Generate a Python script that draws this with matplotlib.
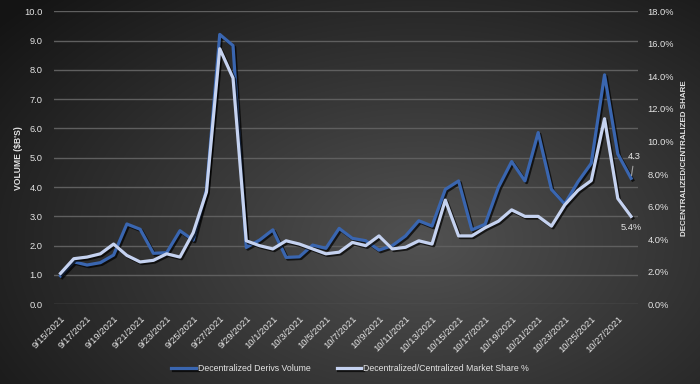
import numpy as np
import pandas as pd
import matplotlib
matplotlib.use("Agg")
import matplotlib.pyplot as plt
import matplotlib.patheffects as pe

# Data
dates = pd.date_range("2021-09-15", "2021-10-28", freq="D")
volume = [0.97, 1.45, 1.34, 1.42, 1.68, 2.74, 2.56, 1.74, 1.76, 2.51,
          2.19, 3.90, 9.21, 8.83, 1.94, 2.19, 2.54, 1.60, 1.62, 2.02,
          1.91, 2.59, 2.25, 2.17, 1.85, 2.00, 2.33, 2.85, 2.67, 3.92,
          4.21, 2.54, 2.73, 3.99, 4.87, 4.21, 5.86, 3.92, 3.42, 4.18,
          4.81, 7.83, 5.13, 4.30]
share = [1.9, 2.8, 2.9, 3.1, 3.7, 3.0, 2.6, 2.7, 3.1, 2.9,
         4.4, 6.9, 15.7, 13.9, 3.9, 3.6, 3.4, 3.9, 3.7, 3.4,
         3.1, 3.2, 3.8, 3.6, 4.2, 3.4, 3.5, 3.9, 3.7, 6.4,
         4.2, 4.2, 4.7, 5.1, 5.8, 5.4, 5.4, 4.8, 6.1, 7.0,
         7.6, 11.4, 6.5, 5.4]
labels = [f"{d.month}/{d.day}/{d.year}" for d in dates]

blue = "#3A66B0"
light = "#C5D2F0"
txt = "#E4E4E4"
grid = "#5F5F5F"
plt.rcParams["font.family"] = ["Liberation Sans Narrow", "Liberation Sans", "DejaVu Sans"]

fig = plt.figure(figsize=(7, 3.84), dpi=100)

# radial gradient background
bg = fig.add_axes([0, 0, 1, 1], zorder=-10)
yy, xx = np.mgrid[0:384, 0:700]
r = np.sqrt(((xx - 420) / 520.0) ** 2 + ((yy - 240) / 330.0) ** 2)
shade = np.clip(0.32 - 0.23 * r, 0.08, 0.32)
bg.imshow(np.dstack([shade] * 3), aspect="auto", extent=[0, 1, 0, 1])
bg.axis("off")

ax = fig.add_axes([0.077, 0.2076, 0.834, 0.763])
ax.patch.set_alpha(0)
ax2 = ax.twinx()
x = np.arange(len(dates))

shadow = [pe.SimpleLineShadow(offset=(1.2, -1.2), shadow_color="black", alpha=0.7), pe.Normal()]
ax.plot(x, volume, color=blue, lw=2.3, path_effects=shadow, zorder=3,
        label="Decentralized Derivs Volume")
ax2.plot(x, share, color=light, lw=2.3, path_effects=shadow, zorder=4,
         label="Decentralized/Centralized Market Share %")

ax.set_ylim(0, 10)
ax.set_yticks(np.arange(0, 10.1, 1))
ax.set_yticklabels([f"{v:.1f}" for v in np.arange(0, 10.1, 1)])
ax2.set_ylim(0, 18)
ax2.set_yticks(np.arange(0, 18.1, 2))
ax2.set_yticklabels([f"{v:.1f}%" for v in np.arange(0, 18.1, 2)])
ax.set_xlim(-0.5, len(dates) - 0.5)
ax.set_xticks(x[::2])
ax.set_xticklabels(labels[::2], rotation=45, ha="right", rotation_mode="anchor")

ax.grid(axis="y", color=grid, lw=1)
ax.set_axisbelow(True)
for a in (ax, ax2):
    for s in a.spines.values():
        s.set_visible(False)
    a.tick_params(length=0, colors=txt, labelsize=6.7)
ax.tick_params(axis="x", labelsize=6.8, pad=7)
ax.tick_params(axis="y", pad=8)
ax2.tick_params(axis="y", pad=7)

ax.set_ylabel("VOLUME ($B'S)", color=txt, fontsize=6.2, fontweight="bold", labelpad=1)
ax2.set_ylabel("DECENTRALIZED/CENTRALIZED SHARE", color=txt, fontsize=5.8,
               fontweight="bold", labelpad=5)

# data labels on the last points
ax.annotate(f"{volume[-1]:.1f}", xy=(x[-1], volume[-1]), xytext=(x[-1] + 0.25, volume[-1] + 0.6),
            color=txt, fontsize=6.7, ha="center", va="bottom",
            arrowprops=dict(arrowstyle="-", color="#A0A0A0", lw=0.8))
ax2.annotate(f"{share[-1]:.1f}%", xy=(x[-1], share[-1]), xytext=(0, -5),
             textcoords="offset points", color=txt, fontsize=6.7, ha="center", va="top")

h1, l1 = ax.get_legend_handles_labels()
h2, l2 = ax2.get_legend_handles_labels()
fig.legend(h1 + h2, l1 + l2, loc="center", bbox_to_anchor=(0.5, 0.04), ncol=2,
           frameon=False, fontsize=6.3, labelcolor=txt, handlelength=2.8,
           columnspacing=3.0, handletextpad=0.2)

fig.savefig("out.png", dpi=100)
